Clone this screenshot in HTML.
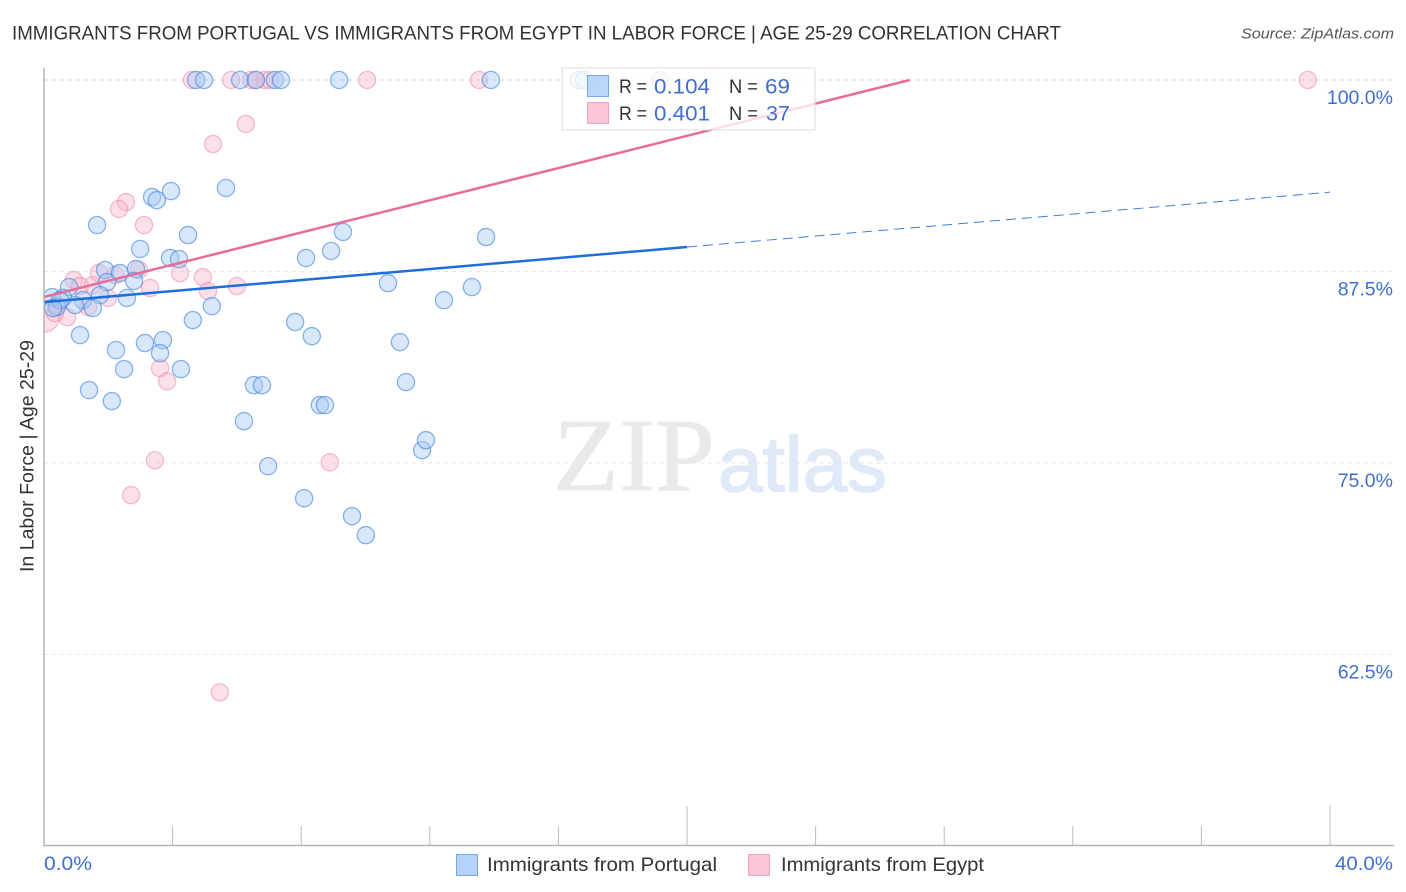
<!DOCTYPE html>
<html>
<head>
<meta charset="utf-8">
<title>Immigrants from Portugal vs Immigrants from Egypt in Labor Force</title>
<style>
html,body{margin:0;padding:0;background:#fff;}
svg{display:block;font-family:"Liberation Sans",sans-serif;}
</style>
</head>
<body>
<svg id="chart" width="1406" height="892" viewBox="0 0 1406 892" xmlns="http://www.w3.org/2000/svg">
  <defs><clipPath id="plot-clip"><rect x="44" y="60" width="1362" height="785"/></clipPath></defs>
  <text x="12" y="39.5" font-size="19.5" fill="#2e3338" textLength="1049" lengthAdjust="spacingAndGlyphs">IMMIGRANTS FROM PORTUGAL VS IMMIGRANTS FROM EGYPT IN LABOR FORCE | AGE 25-29 CORRELATION CHART</text>
  <text x="1394" y="38.5" font-size="15" font-style="italic" fill="#555" text-anchor="end" textLength="153" lengthAdjust="spacingAndGlyphs">Source: ZipAtlas.com</text>

  <g>
    <text x="553" y="490" font-family="'Liberation Serif',serif" font-size="104" fill="#e9e9e9" stroke="#e9e9e9" stroke-width="0.8" textLength="162" lengthAdjust="spacingAndGlyphs">ZIP</text>
    <text x="718" y="491" font-size="78" fill="#dfe9f8" stroke="#dfe9f8" stroke-width="1.6" textLength="169" lengthAdjust="spacingAndGlyphs">atlas</text>
  </g>

  <g id="grid"></g>
  <g id="pink-points" clip-path="url(#plot-clip)"></g>
  <g id="blue-points" clip-path="url(#plot-clip)"></g>
  <g id="trends"></g>
  <g id="axes"></g>
  <g id="y-labels"></g>

  <text transform="translate(33.5,456) rotate(-90)" font-size="19" fill="#333" text-anchor="middle" textLength="232" lengthAdjust="spacingAndGlyphs">In Labor Force | Age 25-29</text>
  <text x="44" y="870" font-size="19" fill="#3f6fd2" textLength="48" lengthAdjust="spacingAndGlyphs">0.0%</text>
  <text x="1393" y="870" font-size="19" fill="#3f6fd2" text-anchor="end" textLength="58" lengthAdjust="spacingAndGlyphs">40.0%</text>

  <g>
    <rect x="562" y="68" width="253" height="62" fill="#fff" fill-opacity="0.78" stroke="#dcdcdc" stroke-width="1"/>
    <rect x="587.5" y="75.5" width="21" height="21" fill="#b5d2fa" fill-opacity="0.9" stroke="#76a8e6"/>
    <rect x="587.5" y="102.5" width="21" height="21" fill="#fcc6d8" stroke="#f3a3bb"/>
    <text x="619" y="93" font-size="19.5" fill="#333" textLength="28" lengthAdjust="spacingAndGlyphs">R =</text>
    <text x="654" y="93.5" font-size="21.5" fill="#3f6fd2" textLength="56" lengthAdjust="spacingAndGlyphs">0.104</text>
    <text x="729" y="93" font-size="19.5" fill="#333" textLength="29" lengthAdjust="spacingAndGlyphs">N =</text>
    <text x="765" y="93.5" font-size="21.5" fill="#3f6fd2" textLength="25" lengthAdjust="spacingAndGlyphs">69</text>
    <text x="619" y="120" font-size="19.5" fill="#333" textLength="28" lengthAdjust="spacingAndGlyphs">R =</text>
    <text x="654" y="120.5" font-size="21.5" fill="#3f6fd2" textLength="56" lengthAdjust="spacingAndGlyphs">0.401</text>
    <text x="729" y="120" font-size="19.5" fill="#333" textLength="29" lengthAdjust="spacingAndGlyphs">N =</text>
    <text x="766" y="120.5" font-size="21.5" fill="#3f6fd2" textLength="24" lengthAdjust="spacingAndGlyphs">37</text>
  </g>

  <g>
    <rect x="456.5" y="854.5" width="21" height="21" fill="#b5d2fa" stroke="#76a8e6"/>
    <text x="487" y="871" font-size="19.5" fill="#333" textLength="230" lengthAdjust="spacingAndGlyphs">Immigrants from Portugal</text>
    <rect x="748.5" y="854.5" width="21" height="21" fill="#fcc6d8" stroke="#f3a3bb"/>
    <text x="781" y="871" font-size="19.5" fill="#333" textLength="203" lengthAdjust="spacingAndGlyphs">Immigrants from Egypt</text>
  </g>
</svg>
<script>
const portugalX = [4.73,4.98,6.10,6.59,7.18,7.37,9.18,13.90,16.64,16.80,3.36,3.51,3.95,5.66,1.65,4.48,2.99,3.92,4.20,9.30,8.93,8.15,13.75,1.90,2.36,2.86,1.96,2.80,0.78,1.74,2.58,1.21,1.52,0.96,0.25,0.59,0.40,0.50,0.28,1.12,2.24,3.14,3.70,3.61,4.63,5.22,7.81,8.33,2.49,4.26,1.40,2.11,6.53,6.78,8.58,8.74,6.22,6.97,8.09,9.58,10.01,11.76,11.88,11.26,11.07,10.70,12.44,13.31];
const portugalY = [100,100,100,100,100,100,100,100,100,100,92.36,92.16,92.75,92.95,90.53,89.88,88.97,88.38,88.31,90.08,88.84,88.38,89.75,87.60,87.40,87.66,86.81,86.88,86.48,85.96,85.77,85.63,85.11,85.31,85.83,85.77,85.18,85.63,85.11,83.35,82.37,82.83,83.02,82.17,84.33,85.24,84.20,83.28,81.13,81.13,79.76,79.04,80.08,80.08,78.78,78.78,77.73,74.79,72.70,71.53,70.29,75.84,76.49,80.28,82.89,86.74,85.63,86.48];
const egyptX = [4.60,5.82,6.44,6.59,6.87,7.03,10.05,13.53,39.31,19.16,6.28,5.26,2.55,2.33,3.11,0.93,1.12,1.52,1.71,2.21,2.95,1.99,3.30,4.23,4.94,5.10,6.00,1.37,0.72,0.34,0.40,3.61,3.83,3.45,2.71,8.89,5.47];
const egyptY = [100,100,100,100,100,100,100,100,100,100,97.13,95.82,92.03,91.58,90.53,86.94,86.55,86.61,87.40,87.27,87.60,85.77,86.42,87.40,87.13,86.22,86.55,85.18,84.52,84.78,85.31,81.19,80.34,75.18,72.90,75.05,60.03];
const egyptClusterPoint = [0.0, 84.6];
const portugalTrendSolidX = [0, 20];
const portugalTrendSolidY = [85.5, 89.1];
const portugalTrendDashedX = [20, 40];
const portugalTrendDashedY = [89.1, 92.68];
const egyptTrendX = [0, 26.93];
const egyptTrendY = [85.84, 100];
const yTicks = [100, 87.5, 75, 62.5];
const yTickLabels = ['100.0%', '87.5%', '75.0%', '62.5%'];
const xTicks = [0,4,8,12,16,20,24,28,32,36,40];
const xMajorTicks = [0,20,40];

const NS = 'http://www.w3.org/2000/svg';
function xScale(v){ return 44 + v * 32.15; }
function yScale(v){ return 80 + (100 - v) * 15.32; }
function make(tag, attrs, parent){
  const el = document.createElementNS(NS, tag);
  for (const k in attrs) el.setAttribute(k, attrs[k]);
  parent.appendChild(el);
  return el;
}
const grid = document.getElementById('grid');
yTicks.forEach(function(t, i){
  const y = yScale(t);
  const line = make('line', {x1:44, x2:1394, y1:y, y2:y, stroke: i === 0 ? '#d6d6d6' : '#e6e6e6', 'stroke-width':1, 'stroke-dasharray':'4 4'}, grid);
  
  
});
const pinkG = document.getElementById('pink-points');
function pinkDot(x, y, r){
  const c = make('circle', {cx:xScale(x), cy:yScale(y), r:r, fill:'#f7b6ca', 'fill-opacity':0.42, stroke:'#ee7fa0', 'stroke-opacity':0.5, 'stroke-width':1.3}, pinkG);
  
  
}
pinkDot(egyptClusterPoint[0], egyptClusterPoint[1], 16);
egyptX.forEach(function(x, i){ pinkDot(x, egyptY[i], 8.6); });
const blueG = document.getElementById('blue-points');
portugalX.forEach(function(x, i){
  const c = make('circle', {cx:xScale(x), cy:yScale(portugalY[i]), r:8.6, fill:'#a9caf3', 'fill-opacity':0.45, stroke:'#3f86dc', 'stroke-opacity':0.6, 'stroke-width':1.3}, blueG);
  
  
});
const trends = document.getElementById('trends');
const egyptLine = make('line', {x1:xScale(egyptTrendX[0]), y1:yScale(egyptTrendY[0]), x2:xScale(egyptTrendX[1]), y2:yScale(egyptTrendY[1]), stroke:'#e86c96', 'stroke-width':2.5}, trends);


const solidLine = make('line', {x1:xScale(portugalTrendSolidX[0]), y1:yScale(portugalTrendSolidY[0]), x2:xScale(portugalTrendSolidX[1]), y2:yScale(portugalTrendSolidY[1]), stroke:'#1f6fd8', 'stroke-width':2.5}, trends);


const dashLine = make('line', {x1:xScale(portugalTrendDashedX[0]), y1:yScale(portugalTrendDashedY[0]), x2:xScale(portugalTrendDashedX[1]), y2:yScale(portugalTrendDashedY[1]), stroke:'#3f7fd8', 'stroke-width':1, 'stroke-dasharray':'10 6'}, trends);


const axes = document.getElementById('axes');
const yAxis = make('line', {x1:44, x2:44, y1:68, y2:846, stroke:'#b4b4b4', 'stroke-width':1.5}, axes);


const xAxis = make('line', {x1:44, x2:1394, y1:845.5, y2:845.5, stroke:'#b4b4b4', 'stroke-width':1.5}, axes);


xTicks.forEach(function(t){
  const x = xScale(t);
  const top = xMajorTicks.indexOf(t) >= 0 ? 806 : 826;
  const tick = make('line', {x1:x, x2:x, y1:top, y2:845, stroke:'#bcbcbc', 'stroke-width':1}, axes);
  
  
});
const yLabels = document.getElementById('y-labels');
yTicks.forEach(function(t, i){
  const label = make('text', {x:1393, y:yScale(t) + 24, 'font-size':19.5, fill:'#3f6fd2', 'text-anchor':'end'}, yLabels);
  label.textContent = yTickLabels[i];
  
  
});
</script>
</body>
</html>
